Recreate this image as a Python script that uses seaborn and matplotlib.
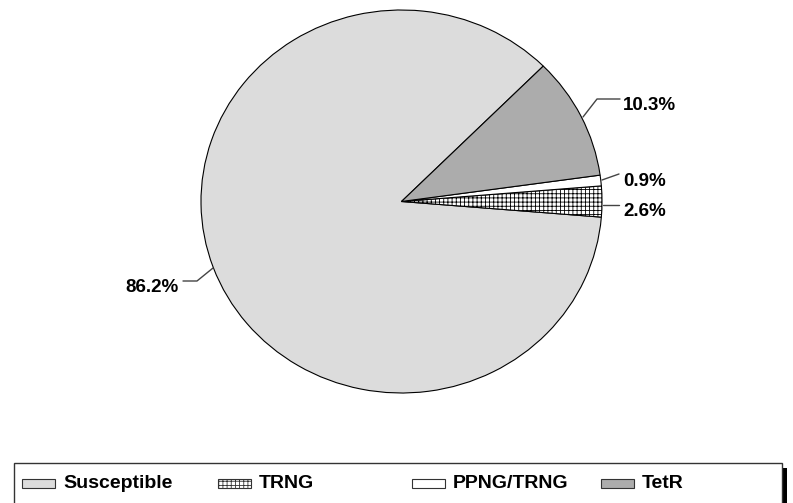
import matplotlib
matplotlib.use("Agg")
import matplotlib.pyplot as plt
import seaborn as sns
from matplotlib.patches import Rectangle

sns.set_theme(style="white")
plt.rcParams['font.family'] = ['Liberation Sans', 'DejaVu Sans']
plt.rcParams['hatch.linewidth'] = 0.6

categories = ["Susceptible", "TRNG", "PPNG/TRNG", "TetR"]
values = [86.2, 2.6, 0.9, 10.3]
pct_labels = ["86.2%", "2.6%", "0.9%", "10.3%"]

colors = ["#dcdcdc", "#ffffff", "#ffffff", "#acacac"]
hatches = [None, "++++", None, None]

W, H = 793, 503
fig = plt.figure(figsize=(W / 100, H / 100), dpi=100)
# pie box in pixels
x0p, x1p, y0p, y1p = 201, 602, 10, 393
ax = fig.add_axes([x0p / W, 1 - y1p / H, (x1p - x0p) / W, (y1p - y0p) / H])
wedges, _ = ax.pie(values, colors=colors, startangle=45.0, counterclock=True,
                   wedgeprops=dict(edgecolor="black", linewidth=0.8))
for w, h in zip(wedges, hatches):
    if h:
        w.set_hatch(h)
ax.set_aspect("auto")
ax.set_xlim(-1.0, 1.0)
ax.set_ylim(-1.0, 1.0)
ax.axis("off")


def px(x, y):
    return x / W, 1 - y / H


label_font = dict(fontsize=13.5, fontweight="bold", color="black")
leaders = {
    "86.2%": ([213, 197, 183], [268, 281, 281], 179, 287, "right"),
    "10.3%": ([583, 597, 620], [117, 99, 99], 623, 105, "left"),
    "0.9%": ([602, 619], [180, 174], 623, 182, "left"),
    "2.6%": ([603, 619], [205, 205], 623, 211, "left"),
}
for lab in pct_labels:
    xs, ys, tx, ty, ha = leaders[lab]
    fx = [x / W for x in xs]
    fy = [1 - y / H for y in ys]
    fig.add_artist(plt.Line2D(fx, fy, color="#444444", linewidth=1.0, transform=fig.transFigure))
    fig.text(*px(tx, ty), lab, ha=ha, va="center", **label_font)

# legend box (runs off the bottom edge) with a dark shadow on the right
bx0, bx1, by0, by1 = 14, 782, 463, 515
fig.add_artist(Rectangle(px(782, 515), 5 / W, 47 / H, transform=fig.transFigure,
                         facecolor="black", edgecolor="none"))
fig.add_artist(Rectangle(px(bx0, by1), (bx1 - bx0) / W, (by1 - by0) / H, transform=fig.transFigure,
                         facecolor="white", edgecolor="#333333", linewidth=1.0))
patch_x = [22, 218, 412, 601]
legend_font = dict(fontsize=14, fontweight="bold", color="black")
for cat, col, h, lx in zip(categories, colors, hatches, patch_x):
    rect = Rectangle(px(lx, 488), 33 / W, 9 / H, transform=fig.transFigure,
                     facecolor=col, edgecolor="#333333", linewidth=0.8, hatch=h)
    fig.add_artist(rect)
    fig.text(*px(lx + 41, 484), cat, ha="left", va="center", **legend_font)

fig.savefig("out.png", dpi=100, facecolor="white")
